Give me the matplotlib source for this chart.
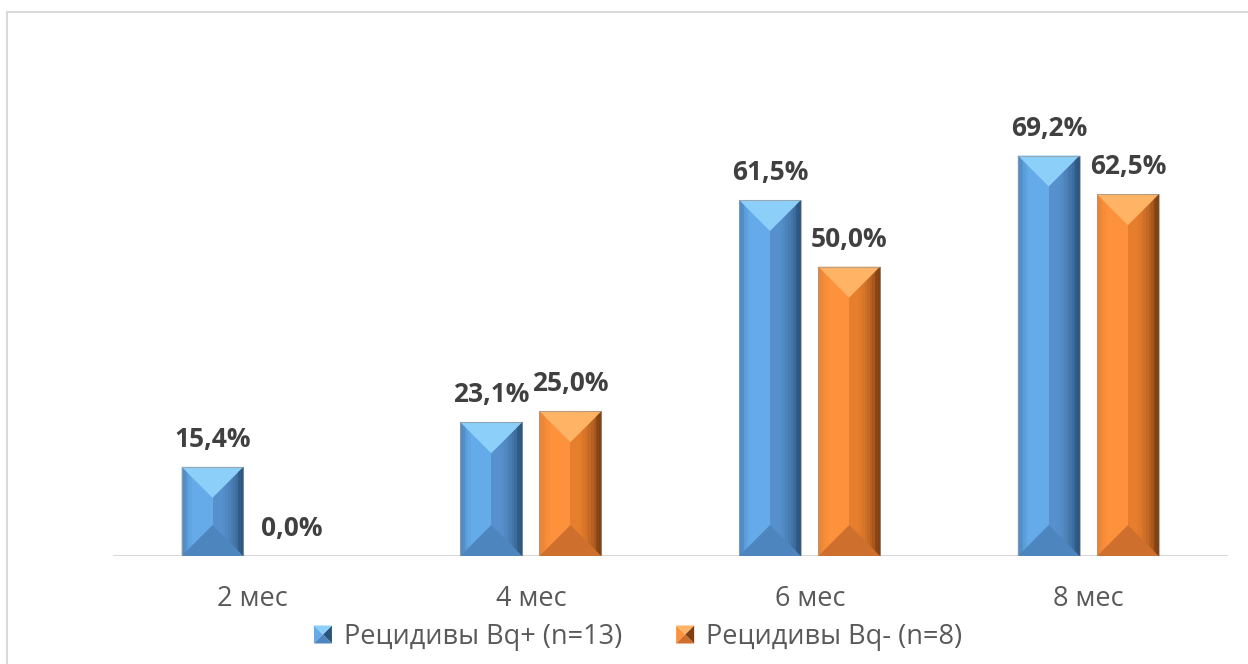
import matplotlib
matplotlib.use("Agg")
import matplotlib.pyplot as plt
from matplotlib.patches import Polygon, Rectangle
from matplotlib.legend_handler import HandlerBase
from matplotlib.lines import Line2D
from matplotlib.colors import to_rgb
import numpy as np

plt.rcParams['font.family'] = ['Open Sans', 'DejaVu Sans']

categories = ["2 мес", "4 мес", "6 мес", "8 мес"]
series_names = ["Рецидивы Bq+ (n=13)", "Рецидивы Bq- (n=8)"]
bq_pos = [15.4, 23.1, 61.5, 69.2]
bq_neg = [0.0, 25.0, 50.0, 62.5]

# bevel palettes: left face, right face, top facet, bottom facet, right edge, left edge
PALETTES = [
    dict(left="#66abe9", right="#5791cd", top="#8ccff9", bottom="#4d86bf",
         redge="#2c557e", ledge="#4e8bc6"),
    dict(left="#fd913c", right="#e67e2d", top="#ffb465", bottom="#cf6f2e",
         redge="#7e3f12", ledge="#ec8634"),
]

fig = plt.figure(figsize=(12.48, 6.64), dpi=100)
ax = fig.add_axes([113 / 1248, 1 - 556 / 664, (1228 - 113) / 1248, (556 - 93) / 664])

x = np.arange(len(categories))
width = 0.222
offsets = [-0.143, 0.141]
ax.set_xlim(-0.5, len(categories) - 0.5)
ax.set_ylim(0, 80)

for k in ax.spines:
    ax.spines[k].set_visible(False)
ax.axhline(0, color="#d9d9d9", lw=1.5, zorder=1)
ax.set_yticks([])
ax.set_xticks(x)
ax.set_xticklabels(categories, fontsize=19.5, color="#595959")
ax.tick_params(axis="x", length=0, pad=21)

fig.canvas.draw()
to_disp = ax.transData
to_data = ax.transData.inverted()


def mix(c1, c2, t):
    a, b = np.array(to_rgb(c1)), np.array(to_rgb(c2))
    return tuple(a + (b - a) * t)


def bevel_bar(xc, h, pal):
    if h <= 0:
        return
    x0, x1 = xc - width / 2, xc + width / 2
    (px0, py0), (px1, py1) = to_disp.transform([(x0, 0), (x1, h)])
    half = (px1 - px0) / 2
    bev = min(half, (py1 - py0) / 2)

    def d(px, py):
        return to_data.transform((px, py))

    pxm = (px0 + px1) / 2
    tl, tr = d(px0, py1), d(px1, py1)
    bl, br = d(px0, py0), d(px1, py0)
    top_apex = d(pxm, py1 - bev)
    bot_apex = d(pxm, py0 + bev)
    # faces, built from thin vertical strips to give a soft horizontal gradient
    n = 24
    edges = np.linspace(px0, px1, n + 1)
    for i in range(n):
        sx0, sx1 = edges[i], edges[i + 1]
        t = (sx0 + sx1) / 2 - px0
        u = t / (px1 - px0)
        if u < 0.5:
            col = mix(pal["ledge"], pal["left"], min(1.0, u / 0.18))
        else:
            col = mix(pal["right"], pal["redge"], max(0.0, (u - 0.62) / 0.38) ** 1.6)
        p = [d(sx0, py0), d(sx0, py1), d(sx1 + 0.5, py1), d(sx1 + 0.5, py0)]
        ax.add_patch(Polygon(p, closed=True, fc=col, ec="none", zorder=2))
    # top and bottom facets
    ax.add_patch(Polygon([tl, tr, top_apex], closed=True, fc=pal["top"], ec="none", zorder=3))
    ax.add_patch(Polygon([bl, br, bot_apex], closed=True, fc=pal["bottom"], ec="none", zorder=3))
    # soft shading of the facet ends
    ax.add_patch(Polygon([tl, d(px0 + 5, py1 - 5), d(px0 + 5, py0 + 5), bl], closed=True,
                         fc=pal["ledge"], ec="none", alpha=0.55, zorder=3))
    ax.add_patch(Polygon([tr, d(px1 - 5, py1 - 5), d(px1 - 5, py0 + 5), br], closed=True,
                         fc=pal["redge"], ec="none", alpha=0.55, zorder=3))
    # thin outline
    ax.add_patch(Rectangle((x0, 0), width, h, fc="none", ec="#9a9a9a", lw=0.8, alpha=0.7, zorder=4))


for vals, off, pal in zip([bq_pos, bq_neg], offsets, PALETTES):
    bars = ax.bar(x + off, vals, width, color="none", zorder=1)
    for b, v in zip(bars, vals):
        bevel_bar(b.get_x() + b.get_width() / 2, v, pal)
        ax.annotate(f"{v:.1f}%".replace(".", ","), (b.get_x() + b.get_width() / 2, v),
                    xytext=(0, 10), textcoords="offset points", ha="center", va="bottom",
                    fontsize=19, fontweight="bold", color="#404040", zorder=5)


class BevelHandler(HandlerBase):
    def __init__(self, pal):
        super().__init__()
        self.pal = pal

    def create_artists(self, legend, orig_handle, xdescent, ydescent, width, height, fontsize, trans):
        s = min(width, height) * 0.95
        x0 = xdescent + width - s
        y0 = -ydescent + (height - s) / 2
        c = (x0 + s / 2, y0 + s / 2)
        pal = self.pal
        arts = [
            Polygon([(x0, y0), (x0, y0 + s), c], closed=True, fc=pal["left"], ec="none"),
            Polygon([(x0 + s, y0), (x0 + s, y0 + s), c], closed=True, fc=pal["redge"], ec="none"),
            Polygon([(x0, y0 + s), (x0 + s, y0 + s), c], closed=True, fc=pal["top"], ec="none"),
            Polygon([(x0, y0), (x0 + s, y0), c], closed=True, fc=pal["bottom"], ec="none"),
        ]
        for a in arts:
            a.set_transform(trans)
        return arts


handles = [Line2D([], []), Line2D([], [])]
ax.legend(handles, series_names, loc="upper center", bbox_to_anchor=(0.470, -0.092),
          ncol=2, frameon=False, fontsize=19.5, labelcolor="#595959",
          handler_map={handles[0]: BevelHandler(PALETTES[0]), handles[1]: BevelHandler(PALETTES[1])},
          handlelength=0.75, handletextpad=0.45, columnspacing=1.9)

# outer chart frame (top and left edges)
fig.add_artist(Line2D([7 / 1248, 1.0], [1 - 12 / 664, 1 - 12 / 664], color="#d9d9d9", lw=1.5))
fig.add_artist(Line2D([7 / 1248, 7 / 1248], [0, 1 - 12 / 664], color="#d9d9d9", lw=1.5))

fig.savefig("out.png", dpi=100, facecolor="white")
